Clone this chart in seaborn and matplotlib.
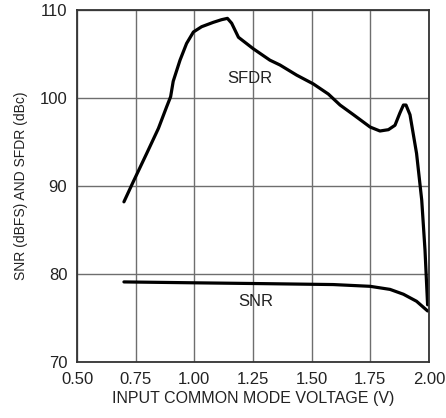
import numpy as np
import pandas as pd
import matplotlib
matplotlib.use("Agg")
import matplotlib.pyplot as plt
import seaborn as sns

# --- data ---
sfdr_v = [0.700, 0.740, 0.797, 0.847, 0.882, 0.899, 0.910, 0.939, 0.967, 0.996,
          1.031, 1.081, 1.116, 1.141, 1.159, 1.188, 1.251, 1.322, 1.365, 1.436,
          1.507, 1.571, 1.621, 1.678, 1.749, 1.791, 1.827, 1.855, 1.876, 1.891,
          1.902, 1.919, 1.947, 1.969, 1.983, 1.994]
sfdr_db = [88.2, 90.5, 93.7, 96.55, 99.0, 100.15, 101.9, 104.3, 106.2, 107.5,
           108.1, 108.6, 108.9, 109.05, 108.5, 106.9, 105.6, 104.3, 103.75, 102.6,
           101.6, 100.45, 99.2, 98.1, 96.7, 96.25, 96.4, 96.9, 98.3, 99.2,
           99.2, 98.1, 93.7, 88.4, 82.7, 76.5]

snr_v = [0.700, 0.996, 1.308, 1.592, 1.749, 1.834, 1.891, 1.947, 1.994]
snr_db = [79.1, 79.0, 78.9, 78.8, 78.6, 78.25, 77.7, 76.9, 75.8]

x_ticks = [0.50, 0.75, 1.00, 1.25, 1.50, 1.75, 2.00]
y_ticks = [70, 80, 90, 100, 110]

df_sfdr = pd.DataFrame({"v": sfdr_v, "db": sfdr_db})
df_snr = pd.DataFrame({"v": snr_v, "db": snr_db})

sns.set_theme(style="white")
plt.rcParams['font.family'] = ['Liberation Sans Narrow', 'DejaVu Sans Condensed',
                               'Liberation Sans', 'DejaVu Sans']

fig = plt.figure(figsize=(4.46, 4.18), dpi=100)
ax = fig.add_axes([77 / 446, 56 / 418, 352 / 446, 352 / 418])

sns.lineplot(data=df_sfdr, x="v", y="db", ax=ax, color="black", lw=2.3,
             sort=False, estimator=None)
sns.lineplot(data=df_snr, x="v", y="db", ax=ax, color="black", lw=2.3,
             sort=False, estimator=None)

ax.set_xlim(0.5, 2.0)
ax.set_ylim(70, 110)
ax.set_xticks(x_ticks)
ax.set_xticklabels([f"{t:.2f}" for t in x_ticks])
ax.set_yticks(y_ticks)
ax.grid(True, color="#6e6e6e", lw=1.0)
ax.set_axisbelow(True)
for s in ax.spines.values():
    s.set_color("#333333")
    s.set_linewidth(1.3)
ax.tick_params(axis="both", length=0, labelsize=12, colors="#222222", pad=7)

ax.text(1.237, 102.2, "SFDR", fontsize=12, ha="center", va="center", color="#222222")
ax.text(1.261, 76.9, "SNR", fontsize=12, ha="center", va="center", color="#222222")

ax.set_xlabel("INPUT COMMON MODE VOLTAGE (V)", fontsize=11.5, color="#222222", labelpad=3)
ax.set_ylabel("SNR (dBFS) AND SFDR (dBc)", fontsize=10, color="#222222", labelpad=8)

fig.savefig("out.png", dpi=100)
